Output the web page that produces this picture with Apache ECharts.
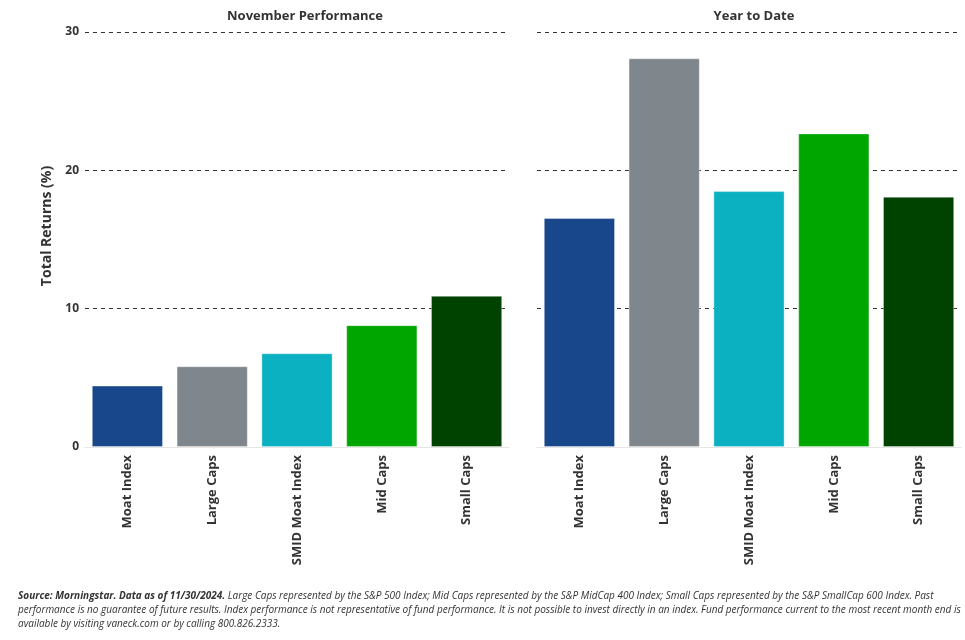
<!DOCTYPE html>
<html><head><meta charset="utf-8">
<script src="https://cdn.jsdelivr.net/npm/echarts@6/dist/echarts.min.js"></script>
<style>html,body{margin:0;padding:0;background:#fff}#c{width:965px;height:640px}</style>
</head><body><div id="c"></div>
<script>
const categories = ['Moat Index','Large Caps','SMID Moat Index','Mid Caps','Small Caps'];
const novemberValues = [4.44, 5.84, 6.78, 8.81, 10.93];
const ytdValues = [16.55, 28.10, 18.50, 22.67, 18.09];
const barColors = ['#19478c','#7f868c','#0bb1c1','#00a600','#004300'];
const yTicks = [0, 10, 20, 30];
const panelTitles = ['November Performance','Year to Date'];
const yAxisTitle = 'Total Returns (%)';

const FONT = '"Open Sans", "Noto Sans", sans-serif';
const chart = echarts.init(document.getElementById('c'), null, {renderer:'canvas'});

function yAxis(gridIndex, showLabels){
  return {
    type:'value', gridIndex, min:yTicks[0], max:yTicks[yTicks.length-1], interval:10,
    axisLine:{show:false}, axisTick:{show:false},
    axisLabel:{show:showLabels, color:'#333', fontWeight:'bold', fontSize:12, fontFamily:FONT, margin:6},
    splitLine:{show:true, lineStyle:{color:'#333', type:[4,4], width:1}}
  };
}
function xAxis(gridIndex){
  return {
    type:'category', gridIndex, data:categories,
    axisLine:{show:true, lineStyle:{color:'#e6e6e6', width:1}}, axisTick:{show:false},
    axisLabel:{rotate:90, color:'#333', fontWeight:'bold', fontSize:13, fontFamily:FONT, margin:8, interval:0}
  };
}
function series(idx, values){
  return {
    type:'bar', xAxisIndex:idx, yAxisIndex:idx, barCategoryGap:'16%',
    data: values.map((v,i)=>({value:v, itemStyle:{color:barColors[i]}})),
    itemStyle:{borderColor:'rgba(255,255,255,0.35)', borderWidth:1},
    animation:false
  };
}

chart.setOption({
  animation:false,
  title:[
    {text:panelTitles[0], left:300, top:5, textAlign:'center', textStyle:{fontFamily:FONT, fontSize:13, fontWeight:'bold', color:'#333'}},
    {text:panelTitles[1], left:749, top:5, textAlign:'center', textStyle:{fontFamily:FONT, fontSize:13, fontWeight:'bold', color:'#333'}}
  ],
  grid:[
    {left:85, right:965-509, top:32, bottom:193},
    {left:537, right:4, top:32, bottom:193}
  ],
  xAxis:[xAxis(0), xAxis(1)],
  yAxis:[yAxis(0,true), yAxis(1,false)],
  series:[series(0,novemberValues), series(1,ytdValues)],
  graphic:[
    {type:'text', x:47, y:226, rotation:Math.PI/2,
     style:{text:yAxisTitle, fontFamily:FONT, fontSize:14, fontWeight:'bold', fill:'#333', align:'center', verticalAlign:'middle'}},
    {type:'text', left:18, top:591,
     style:{rich:{
       b:{fontFamily:FONT, fontStyle:'italic', fontWeight:'bold', fontSize:10, fill:'#333', lineHeight:14},
       n:{fontFamily:FONT, fontStyle:'italic', fontSize:10, fill:'#333', lineHeight:14}
     },
     text:'{b|Source: Morningstar. Data as of 11/30/2024.}{n| Large Caps represented by the S&P 500 Index; Mid Caps represented by the S&P MidCap 400 Index; Small Caps represented by the S&P SmallCap 600 Index. Past}\n{n|performance is no guarantee of future results. Index performance is not representative of fund performance. It is not possible to invest directly in an index. Fund performance current to the most recent month end is}\n{n|available by visiting vaneck.com or by calling 800.826.2333.}'}}
  ]
});
</script></body></html>
